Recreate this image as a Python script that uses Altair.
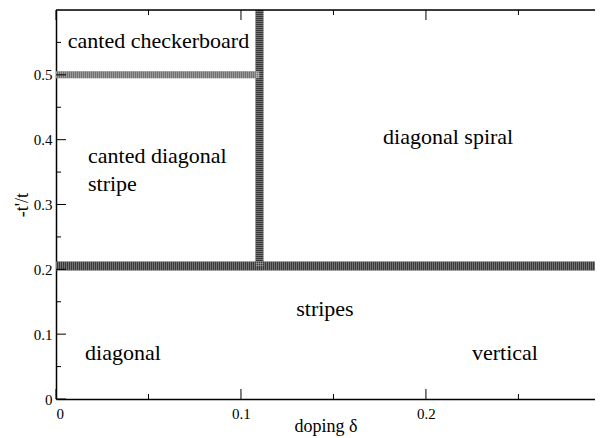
import altair as alt
import pandas as pd

# phase boundaries (x from, x to, y from, y to, shade)
b_x1 = [0.0, 0.110, 0.0]
b_x2 = [0.3, 0.110, 0.110]
b_y1 = [0.205, 0.205, 0.500]
b_y2 = [0.205, 0.600, 0.500]
b_col = ["#383838", "#383838", "#707070"]
b_w = [9, 8, 7]

# region labels (centred)
lab_text = ["canted checkerboard", "diagonal spiral", "stripes", "diagonal", "vertical"]
lab_x = [0.0554, 0.212, 0.1454, 0.0362, 0.2427]
lab_y = [0.541, 0.393, 0.128, 0.060, 0.060]

# region labels (left aligned)
lab2_text = ["canted diagonal", "stripe"]
lab2_x = [0.0173, 0.0173]
lab2_y = [0.364, 0.321]

# axis ticks
x_major = [0.0, 0.1, 0.2]
x_minor = [0.05, 0.15, 0.25]
y_major = [0.0, 0.1, 0.2, 0.3, 0.4, 0.5]
y_minor = [0.05, 0.15, 0.25, 0.35, 0.45, 0.55]

# visible part of the doping axis (the picture is cropped at the right)
X_MAX = 0.2914

W, H = 539, 389
FONT = "Liberation Serif"

xs = alt.Scale(domain=[0, X_MAX], nice=False, zero=False)
ys = alt.Scale(domain=[0, 0.6], nice=False, zero=False)

bdf = pd.DataFrame({"x1": b_x1, "x2": b_x2, "y1": b_y1, "y2": b_y2, "c": b_col, "w": b_w})
ldf = pd.DataFrame({"x": lab_x, "y": lab_y, "t": lab_text})
l2df = pd.DataFrame({"x": lab2_x, "y": lab2_y, "t": lab2_text})

xaxis = alt.Axis(values=x_major, format=".1~f", ticks=False, domain=True, domainColor="black",
                 domainWidth=1.5, grid=False,
                 labelFont=FONT, labelFontSize=15, labelColor="black", labelPadding=7,
                 title="doping δ", titleFont=FONT, titleFontSize=18, titleFontWeight="normal",
                 titleColor="black", titleBaseline="alphabetic", titleY=32)
yaxis = alt.Axis(values=y_major, format=".1~f", ticks=False, domain=True, domainColor="black",
                 domainWidth=1.5, grid=False,
                 labelFont=FONT, labelFontSize=15, labelColor="black", labelPadding=4,
                 title="-t'/t", titleFont=FONT, titleFontSize=18, titleFontWeight="normal",
                 titleColor="black", titlePadding=2)

base_b = alt.Chart(bdf)
bands = base_b.mark_rule(strokeCap="butt", clip=True).encode(
    x=alt.X("x1:Q", scale=xs, axis=xaxis), x2="x2:Q",
    y=alt.Y("y1:Q", scale=ys, axis=yaxis), y2="y2:Q",
    color=alt.Color("c:N", scale=None),
    strokeWidth=alt.StrokeWidth("w:Q", scale=None),
)
texture = base_b.mark_rule(strokeCap="butt", strokeDash=[1, 1], color="white", opacity=0.3,
                           clip=True).encode(
    x=alt.X("x1:Q", scale=xs), x2="x2:Q",
    y=alt.Y("y1:Q", scale=ys), y2="y2:Q",
    strokeWidth=alt.StrokeWidth("w:Q", scale=None),
)

labels = alt.Chart(ldf).mark_text(font=FONT, fontSize=22, align="center", baseline="alphabetic",
                                  color="black").encode(
    x=alt.X("x:Q", scale=xs), y=alt.Y("y:Q", scale=ys), text="t:N")
labels2 = alt.Chart(l2df).mark_text(font=FONT, fontSize=22, align="left", baseline="alphabetic",
                                    color="black").encode(
    x=alt.X("x:Q", scale=xs), y=alt.Y("y:Q", scale=ys), text="t:N")

ymaj = pd.DataFrame({"v": y_major})
ymin = pd.DataFrame({"v": y_minor})
xmaj = pd.DataFrame({"v": x_major})
xmin = pd.DataFrame({"v": x_minor})

def yt(df, x0, x1):
    return alt.Chart(df).mark_rule(color="black", strokeWidth=1).encode(
        y=alt.Y("v:Q", scale=ys), x=alt.value(x0), x2=alt.value(x1))

def xt(df, y0, y1):
    return alt.Chart(df).mark_rule(color="black", strokeWidth=1).encode(
        x=alt.X("v:Q", scale=xs), y=alt.value(y0), y2=alt.value(y1))

ticks = [
    yt(ymaj, 0, 10), yt(ymin, 0, 5),
    xt(xmaj, H, H - 10), xt(xmin, H, H - 5), xt(xmaj, 0, 10), xt(xmin, 0, 5),
]

top_frame = alt.Chart(pd.DataFrame({"v": [0]})).mark_rule(color="black", strokeWidth=1.5).encode(
    x=alt.value(0), x2=alt.value(W), y=alt.value(0))

chart = alt.layer(bands, texture, labels, labels2, *ticks, top_frame).properties(
    width=W, height=H,
    autosize=alt.AutoSizeParams(type="none"),
    padding={"left": 48, "top": 2, "right": 0, "bottom": 39},
).configure_view(stroke=None).configure(background="white")

chart.save("out.html", embed_options={"renderer": "svg", "actions": False})
